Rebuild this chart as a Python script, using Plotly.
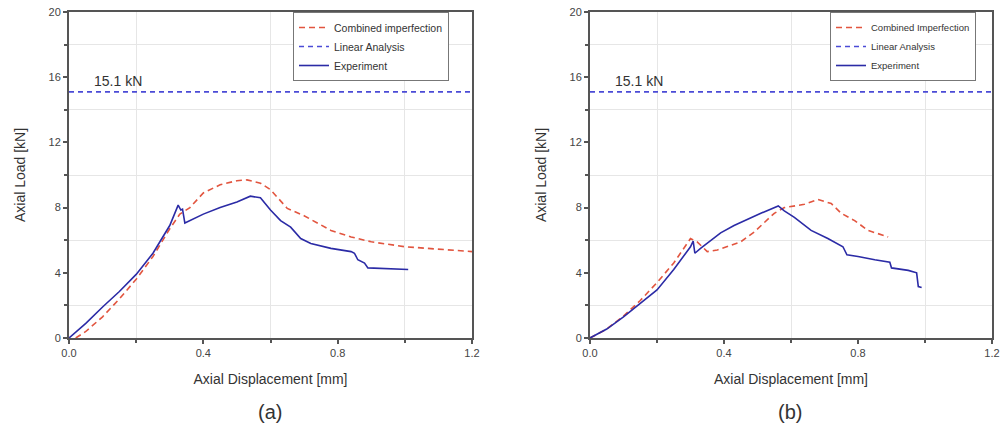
import plotly.graph_objects as go

# ---- data ----
exp_a_x = [0, 0.05, 0.1, 0.15, 0.2, 0.25, 0.3, 0.325, 0.333, 0.338, 0.345, 0.40, 0.45, 0.50, 0.54, 0.57, 0.60, 0.63, 0.66, 0.69, 0.72, 0.78, 0.84, 0.85, 0.86, 0.88, 0.89, 0.95, 1.01]
exp_a_y = [0, 0.9, 1.9, 2.85, 3.9, 5.2, 6.9, 8.15, 7.85, 7.9, 7.05, 7.6, 8.0, 8.35, 8.7, 8.6, 7.85, 7.2, 6.8, 6.1, 5.8, 5.5, 5.3, 5.2, 4.8, 4.6, 4.3, 4.25, 4.2]
comb_a_x = [0.02, 0.05, 0.1, 0.15, 0.2, 0.25, 0.3, 0.33, 0.36, 0.40, 0.45, 0.50, 0.53, 0.57, 0.60, 0.65, 0.70, 0.74, 0.78, 0.84, 0.90, 1.0, 1.1, 1.2]
comb_a_y = [0, 0.4, 1.3, 2.4, 3.6, 5.0, 6.7, 7.6, 8.0, 8.9, 9.4, 9.65, 9.7, 9.5, 9.1, 7.95, 7.5, 7.05, 6.6, 6.2, 5.9, 5.6, 5.45, 5.3]

exp_b_x = [0, 0.05, 0.1, 0.15, 0.2, 0.25, 0.3, 0.308, 0.313, 0.33, 0.39, 0.43, 0.46, 0.51, 0.562, 0.58, 0.61, 0.66, 0.71, 0.755, 0.767, 0.80, 0.85, 0.895, 0.90, 0.95, 0.975, 0.98, 0.99]
exp_b_y = [0, 0.55, 1.3, 2.1, 2.95, 4.2, 5.6, 5.95, 5.2, 5.5, 6.45, 6.9, 7.2, 7.65, 8.1, 7.8, 7.4, 6.6, 6.1, 5.6, 5.1, 5.0, 4.8, 4.65, 4.3, 4.15, 4.0, 3.15, 3.1]
comb_b_x = [0, 0.05, 0.1, 0.15, 0.2, 0.25, 0.30, 0.32, 0.35, 0.38, 0.45, 0.49, 0.55, 0.58, 0.64, 0.68, 0.72, 0.75, 0.79, 0.83, 0.89]
comb_b_y = [0, 0.55, 1.35, 2.3, 3.4, 4.6, 6.1, 5.9, 5.3, 5.4, 5.9, 6.5, 7.65, 8.0, 8.2, 8.5, 8.25, 7.65, 7.2, 6.6, 6.2]

linear_x = [0, 1.2]
linear_y = [15.1, 15.1]
linear_label = "15.1 kN"
panel_labels = ["(a)", "(b)"]
names = ["Combined imperfection", "Linear Analysis", "Experiment"]
names_b = ["Combined Imperfection", "Linear Analysis", "Experiment"]

RED = "#e2553f"
BLUE_D = "#4b4bd6"
BLUE = "#2b2ba6"
FONT = "Liberation Sans, Arial, sans-serif"
TXT = "#333333"

fig = go.Figure()

def add_panel(xa, ya, legend, cx, cy, ex, ey, nm):
    fig.add_trace(go.Scatter(x=cx, y=cy, mode="lines", name=nm[0], xaxis=xa, yaxis=ya, legend=legend,
                             line=dict(color=RED, width=1.6, dash="6px,4px")))
    fig.add_trace(go.Scatter(x=linear_x, y=linear_y, mode="lines", name=nm[1], xaxis=xa, yaxis=ya, legend=legend,
                             line=dict(color=BLUE_D, width=1.6, dash="5px,4px")))
    fig.add_trace(go.Scatter(x=ex, y=ey, mode="lines", name=nm[2], xaxis=xa, yaxis=ya, legend=legend,
                             line=dict(color=BLUE, width=1.6)))

add_panel("x", "y", "legend", comb_a_x, comb_a_y, exp_a_x, exp_a_y, names)
add_panel("x2", "y2", "legend2", comb_b_x, comb_b_y, exp_b_x, exp_b_y, names_b)

H = 434.0
W = 1000.0
ydom = [1 - 338 / H, 1 - 12 / H]

def xaxis(domain, anchor):
    return dict(domain=domain, anchor=anchor, range=[0, 1.2], tickvals=[0, 0.4, 0.8, 1.2],
                ticktext=["0.0", "0.4", "0.8", "1.2"], ticks="outside", ticklen=4, tickwidth=1.5,
                tickcolor="#555", showline=True, linecolor="#555", linewidth=2, mirror=True,
                showgrid=False, zeroline=False, automargin=False,
                minor=dict(tickvals=[0.2, 0.6, 1.0], ticks="outside", ticklen=3, tickcolor="#555",
                           showgrid=True, gridcolor="#e6e6e6", gridwidth=1),
                tickfont=dict(family=FONT, size=11, color="#444"),
                title=dict(text="Axial Displacement [mm]", font=dict(family=FONT, size=14, color=TXT), standoff=16))

def yaxis(anchor):
    return dict(domain=ydom, anchor=anchor, range=[0, 20], tickvals=[0, 4, 8, 12, 16, 20],
                ticks="outside", ticklen=4, tickwidth=1.5, tickcolor="#555",
                showline=True, linecolor="#555", linewidth=2, mirror=True,
                showgrid=False, zeroline=False, automargin=False,
                minor=dict(tickvals=[2, 6, 10, 14, 18], ticks="outside", ticklen=3, tickcolor="#555",
                           showgrid=True, gridcolor="#e6e6e6", gridwidth=1),
                tickfont=dict(family=FONT, size=11, color="#444"),
                title=dict(text="Axial Load [kN]", font=dict(family=FONT, size=14, color=TXT), standoff=20))

leg_common = dict(bgcolor="white", bordercolor="#777", borderwidth=1, xanchor="left", yanchor="top",
                  itemwidth=30, tracegroupgap=0, traceorder="normal")

fig.update_layout(
    width=1000, height=434, margin=dict(l=0, r=0, t=0, b=0, autoexpand=False),
    paper_bgcolor="white", plot_bgcolor="white",
    font=dict(family=FONT, color=TXT),
    xaxis=xaxis([69 / W, 472 / W], "y"),
    yaxis=yaxis("x"),
    xaxis2=xaxis([590 / W, 992 / W], "y2"),
    yaxis2=yaxis("x2"),
    legend=dict(x=293 / W, y=1 - 12 / H, font=dict(family=FONT, size=10.5, color=TXT), **leg_common),
    legend2=dict(x=830 / W, y=1 - 12 / H, font=dict(family=FONT, size=9.5, color=TXT), **leg_common),
    showlegend=True,
)

for xr, yr in [("x", "y"), ("x2", "y2")]:
    fig.add_annotation(x=0.146, y=15.75, xref=xr, yref=yr, text=linear_label, showarrow=False,
                       font=dict(family=FONT, size=14, color=TXT), xanchor="center", yanchor="middle")

fig.add_annotation(x=270 / W, y=1 - 412 / H, xref="paper", yref="paper", text=panel_labels[0], showarrow=False,
                   font=dict(family=FONT, size=20, color=TXT), xanchor="center", yanchor="middle")
fig.add_annotation(x=790 / W, y=1 - 412 / H, xref="paper", yref="paper", text=panel_labels[1], showarrow=False,
                   font=dict(family=FONT, size=20, color=TXT), xanchor="center", yanchor="middle")

fig.write_html("out.html")
